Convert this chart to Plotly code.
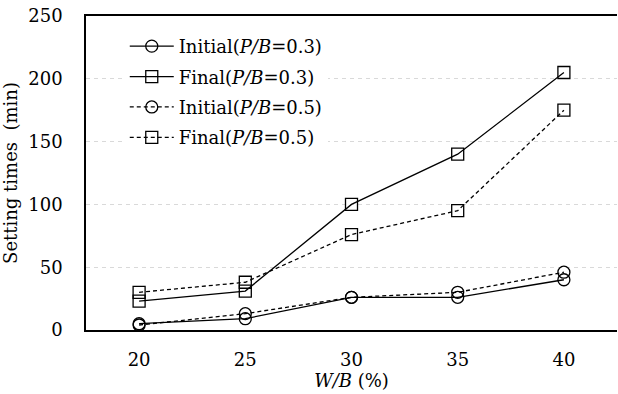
import plotly.graph_objects as go

# W/B ratio (%) and setting times (min)
wb = [20, 25, 30, 35, 40]
initial_03 = [5, 9, 26, 26, 40]
final_03 = [23, 31, 100, 140, 205]
initial_05 = [4, 13, 26, 30, 46]
final_05 = [30, 38, 76, 95, 175]

y_ticks = [0, 50, 100, 150, 200, 250]

FONT = "DejaVu Serif"
FS = 18

series = [
    ("Initial(<i>P/B</i>=0.3)", initial_03, "circle-open", "solid"),
    ("Final(<i>P/B</i>=0.3)", final_03, "square-open", "solid"),
    ("Initial(<i>P/B</i>=0.5)", initial_05, "circle-open", "4px,3px"),
    ("Final(<i>P/B</i>=0.5)", final_05, "square-open", "4px,3px"),
]

fig = go.Figure()
for i, (name, vals, sym, dash) in enumerate(series):
    fig.add_trace(go.Scatter(
        x=wb, y=vals, name=name, mode="lines+markers",
        legendgroup=f"g{i}",
        line=dict(color="black", width=1.3, dash=dash),
        marker=dict(symbol=sym, size=12, color="black",
                    line=dict(color="black", width=1.3)),
    ))

fig.update_layout(
    width=618, height=394,
    margin=dict(l=86, r=1, t=16, b=64),
    paper_bgcolor="white", plot_bgcolor="white",
    font=dict(family=FONT, size=FS, color="black"),
    showlegend=True,
    legend=dict(
        x=0.073, y=0.962, xanchor="left", yanchor="top",
        bgcolor="white", borderwidth=0,
        font=dict(family=FONT, size=FS, color="black"),
        tracegroupgap=4, itemwidth=44,
    ),
    xaxis=dict(
        range=[17.5, 42.5], tickvals=wb,
        showgrid=False, zeroline=False,
        showline=True, linecolor="black", linewidth=1.5, mirror=True,
        ticks="", ticklabelstandoff=13,
        tickfont=dict(family=FONT, size=FS),
        title=dict(text="<i>W/B</i> (%)", standoff=0,
                   font=dict(family=FONT, size=FS)),
    ),
    yaxis=dict(
        range=[0, 250], tickvals=y_ticks,
        showgrid=True, gridcolor="#d9d9d9", griddash="4px,4px", gridwidth=1,
        zeroline=False,
        showline=True, linecolor="black", linewidth=1.5,
        ticks="", ticklabelstandoff=18,
        tickfont=dict(family=FONT, size=FS),
        title=dict(text="Setting times  (min)", standoff=12,
                   font=dict(family=FONT, size=FS)),
    ),
)

fig.write_html("out.html")
